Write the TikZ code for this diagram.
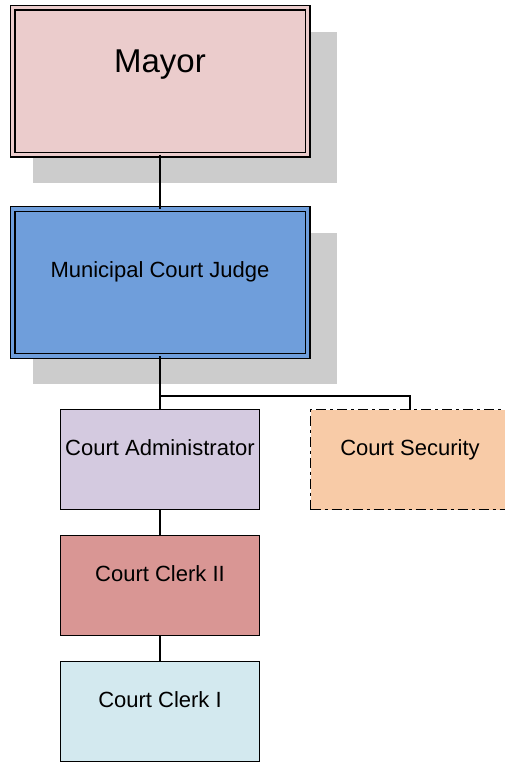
\documentclass[tikz,border=0pt]{standalone}
\usepackage{fontspec}
\setmainfont{Liberation Sans}
\usetikzlibrary{positioning,shadows}
\definecolor{mayorpink}{HTML}{EBCCCC}
\definecolor{judgeblue}{HTML}{6F9EDB}
\definecolor{adminlilac}{HTML}{D4CAE0}
\definecolor{securitypeach}{HTML}{F8CBA7}
\definecolor{clerkred}{HTML}{D99694}
\definecolor{clerkcyan}{HTML}{D3E9EF}
\definecolor{shadowgray}{HTML}{CCCCCC}

\begin{document}
\begin{tikzpicture}[
  x=1pt,y=-1pt,
  every node/.style={font=\fontsize{22}{26}\selectfont,outer sep=0pt},
  headbox/.style={draw,line width=1.4pt,double distance=3.2pt,inner sep=0pt,
    minimum width=295pt,minimum height=147pt,text height=16pt,text depth=27pt,
    drop shadow={shadow xshift=24.5pt,shadow yshift=-25.5pt,shadow scale=1.03,
      fill=shadowgray,opacity=1}},
  staffbox/.style={draw,line width=1.3pt,inner sep=0pt,minimum width=199pt,
    minimum height=100pt,text height=16pt,text depth=25pt},
  link/.style={line width=1.3pt}
]
\useasboundingbox (0,0) rectangle (504,763);
\node[headbox,fill=mayorpink,double=mayorpink,text height=24pt,text depth=42pt,
  font=\fontsize{33}{38}\selectfont] (mayor) at (160,81) {Mayor};
\node[headbox,fill=judgeblue,double=judgeblue] (judge) at (160,282.5) {Municipal Court Judge};
\node[staffbox,fill=adminlilac] (admin) at (160,459.5) {Court Administrator};
\node[staffbox,fill=securitypeach,dash pattern=on 10pt off 4pt on 3pt off 4pt] (security) at (410,459.5) {Court Security};
\node[staffbox,fill=clerkred] (clerkii) at (160,585.5) {Court Clerk II};
\node[staffbox,fill=clerkcyan] (clerki) at (160,711.5) {Court Clerk I};
\coordinate (split) at (160,396);
% reporting lines
\draw[link] (mayor)--(judge);
\draw[link] (judge)--(admin);
\draw[link] (security.north) |- (split);
\draw[link] (admin)--(clerkii);
\draw[link] (clerkii)--(clerki);
\end{tikzpicture}
\end{document}
